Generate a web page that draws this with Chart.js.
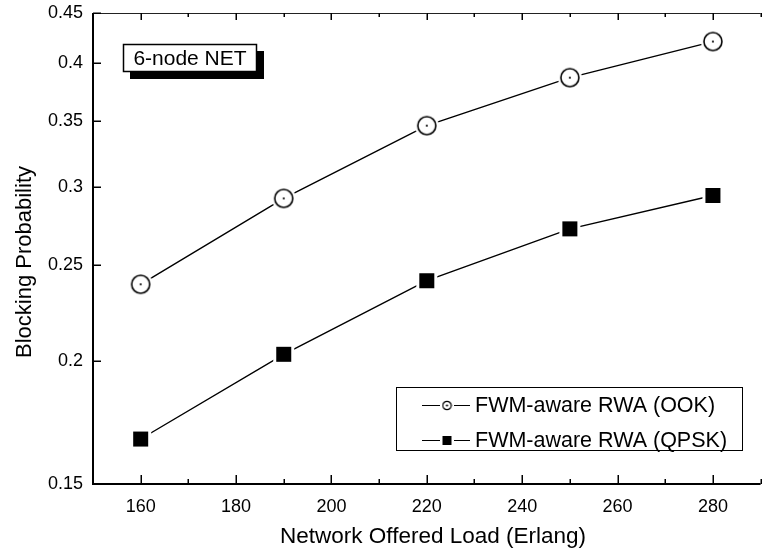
<!DOCTYPE html>
<html>
<head>
<meta charset="utf-8">
<title>Blocking Probability vs Network Offered Load</title>
<script src="https://cdn.jsdelivr.net/npm/chart.js@4.4.1/dist/chart.umd.min.js"></script>
<style>
  html, body { margin: 0; padding: 0; background: #fff; overflow: hidden; }
  #wrap { width: 763px; height: 553px; overflow: hidden; }
  canvas { display: block; }
</style>
</head>
<body>
<div id="wrap"><canvas id="chart" width="772" height="553"></canvas></div>
<script>
// Offered load (Erlang) and blocking probability per modulation format
const loads = [160, 190, 220, 250, 280];
const ookBlocking = [0.239, 0.292, 0.346, 0.387, 0.421];
const qpskBlocking = [0.1666, 0.203, 0.241, 0.272, 0.294];
const seriesNames = ['FWM-aware RWA (OOK)', 'FWM-aware RWA (QPSK)'];
const yTickValues = [0.15, 0.2, 0.25, 0.3, 0.35, 0.4, 0.45];
const xLabelValues = [160, 180, 200, 220, 240, 260, 280];
const netLabel = '6-node NET';
const xTitle = 'Network Offered Load (Erlang)';
const yTitle = 'Blocking Probability';

const FONT = '"Liberation Sans", Arial, Helvetica, sans-serif';

// Open circle with a centre dot, surrounded by a white halo so the line stops short of it
function circleMarker(r, halo, lw) {
  const s = Math.ceil(2 * (r + halo) + 2);
  const c = document.createElement('canvas');
  c.width = s; c.height = s;
  const g = c.getContext('2d');
  const m = s / 2;
  if (halo > 0) {
    g.fillStyle = '#fff';
    g.beginPath(); g.arc(m, m, r + halo, 0, Math.PI * 2); g.fill();
  }
  g.fillStyle = '#fff';
  g.strokeStyle = '#000';
  g.lineWidth = lw;
  g.beginPath(); g.arc(m, m, r, 0, Math.PI * 2); g.fill(); g.stroke();
  g.fillStyle = '#000';
  g.beginPath(); g.arc(m, m, 1.1, 0, Math.PI * 2); g.fill();
  return c;
}

// Filled black square with a white halo
function squareMarker(side, halo) {
  const s = Math.ceil(side + 2 * halo + 2);
  const c = document.createElement('canvas');
  c.width = s; c.height = s;
  const g = c.getContext('2d');
  const m = s / 2;
  if (halo > 0) {
    g.fillStyle = '#fff';
    g.fillRect(m - side / 2 - halo, m - side / 2 - halo, side + 2 * halo, side + 2 * halo);
  }
  g.fillStyle = '#000';
  g.fillRect(m - side / 2, m - side / 2, side, side);
  return c;
}

const ookPoint = circleMarker(9, 3, 1.6);
const qpskPoint = squareMarker(15, 3);
const ookLegendPoint = circleMarker(4.2, 0, 1.2);
const qpskLegendPoint = squareMarker(9, 0);

// Frame, inward ticks, titles, annotation box and legend
const decorations = {
  id: 'decorations',
  afterDraw(chart) {
    const ctx = chart.ctx;
    const xs = chart.scales.x, ys = chart.scales.y;
    const a = chart.chartArea;
    ctx.save();

    // top border (thin)
    ctx.lineWidth = 1;
    ctx.strokeStyle = '#222';
    ctx.beginPath(); ctx.moveTo(a.left, a.top + 0.5); ctx.lineTo(a.right, a.top + 0.5); ctx.stroke();

    // left and bottom axes
    ctx.strokeStyle = '#000';
    ctx.lineWidth = 2;
    ctx.beginPath();
    ctx.moveTo(a.left, a.top);
    ctx.lineTo(a.left, a.bottom);
    ctx.lineTo(a.right, a.bottom);
    ctx.stroke();

    // x ticks, bottom and top, pointing inward
    ctx.lineWidth = 1.5;
    for (let v = xs.min; v <= xs.max; v += 10) {
      const px = Math.round(xs.getPixelForValue(v)) + 0.25;
      const major = xLabelValues.includes(v);
      ctx.beginPath();
      ctx.moveTo(px, a.bottom);
      ctx.lineTo(px, a.bottom - (major ? 9 : 5));
      ctx.moveTo(px, a.top);
      ctx.lineTo(px, a.top + (major ? 7 : 4));
      ctx.stroke();
    }
    // y ticks on the left axis
    yTickValues.forEach(v => {
      const py = Math.round(ys.getPixelForValue(v)) + 0.25;
      ctx.beginPath();
      ctx.moveTo(a.left, py);
      ctx.lineTo(a.left + 8, py);
      ctx.stroke();
    });

    // axis titles
    ctx.fillStyle = '#000';
    ctx.textAlign = 'center';
    ctx.textBaseline = 'middle';
    ctx.font = '22.5px ' + FONT;
    ctx.fillText(xTitle, 433, 537);
    ctx.font = '22px ' + FONT;
    ctx.save();
    ctx.translate(25, 262);
    ctx.rotate(-Math.PI / 2);
    ctx.fillText(yTitle, 0, 0);
    ctx.restore();

    // network label with drop shadow
    ctx.fillStyle = '#000';
    ctx.fillRect(130, 51, 134, 28);
    ctx.fillStyle = '#fff';
    ctx.fillRect(123, 44, 134, 28);
    ctx.lineWidth = 1.5;
    ctx.strokeRect(123.5, 44.5, 133, 27);
    ctx.fillStyle = '#000';
    ctx.font = '21px ' + FONT;
    ctx.textAlign = 'center';
    ctx.fillText(netLabel, 190, 59);

    // legend
    ctx.lineWidth = 1;
    ctx.strokeStyle = '#000';
    ctx.strokeRect(396.5, 387.5, 346, 63);
    const rows = [
      { y: 405, img: ookLegendPoint, name: seriesNames[0] },
      { y: 440, img: qpskLegendPoint, name: seriesNames[1] }
    ];
    ctx.textAlign = 'left';
    ctx.font = '21.5px ' + FONT;
    rows.forEach(r => {
      ctx.lineWidth = 1.2;
      ctx.beginPath();
      ctx.moveTo(422, r.y + 0.5); ctx.lineTo(440, r.y + 0.5);
      ctx.moveTo(454, r.y + 0.5); ctx.lineTo(470, r.y + 0.5);
      ctx.stroke();
      ctx.drawImage(r.img, 447 - r.img.width / 2, r.y - r.img.height / 2 + 0.5);
      ctx.fillText(r.name, 475, r.y + 1);
    });
    ctx.restore();
  }
};

const toPoints = (xsArr, ysArr) => xsArr.map((x, i) => ({ x, y: ysArr[i] }));

new Chart(document.getElementById('chart'), {
  type: 'line',
  data: {
    datasets: [
      {
        label: seriesNames[0],
        data: toPoints(loads, ookBlocking),
        borderColor: '#000',
        borderWidth: 1.4,
        pointStyle: ookPoint,
        pointRadius: 10,
        fill: false,
        tension: 0
      },
      {
        label: seriesNames[1],
        data: toPoints(loads, qpskBlocking),
        borderColor: '#000',
        borderWidth: 1.4,
        pointStyle: qpskPoint,
        pointRadius: 10,
        fill: false,
        tension: 0
      }
    ]
  },
  options: {
    responsive: false,
    animation: false,
    layout: { padding: { top: 13, right: 1, left: 0, bottom: 0 } },
    plugins: {
      legend: { display: false },
      tooltip: { enabled: false },
      title: { display: false }
    },
    scales: {
      x: {
        type: 'linear',
        min: 150,
        max: 290,
        grid: { display: false, drawTicks: false },
        border: { display: false },
        ticks: {
          stepSize: 10,
          autoSkip: false,
          maxRotation: 0,
          padding: 12,
          color: '#000',
          font: { family: FONT, size: 18 },
          callback: v => (xLabelValues.includes(v) ? String(v) : '')
        },
        afterFit: s => { s.height = 69; s.paddingLeft = 0; s.paddingRight = 0; }
      },
      y: {
        type: 'logarithmic',
        min: 0.15,
        max: 0.45,
        grid: { display: false, drawTicks: false },
        border: { display: false },
        afterBuildTicks: s => { s.ticks = yTickValues.map(v => ({ value: v })); },
        ticks: {
          autoSkip: false,
          padding: 10,
          color: '#000',
          font: { family: FONT, size: 18 },
          callback: v => String(v)
        },
        afterFit: s => { s.width = 93; s.paddingTop = 0; s.paddingBottom = 0; }
      }
    }
  },
  plugins: [decorations]
});
</script>
</body>
</html>
